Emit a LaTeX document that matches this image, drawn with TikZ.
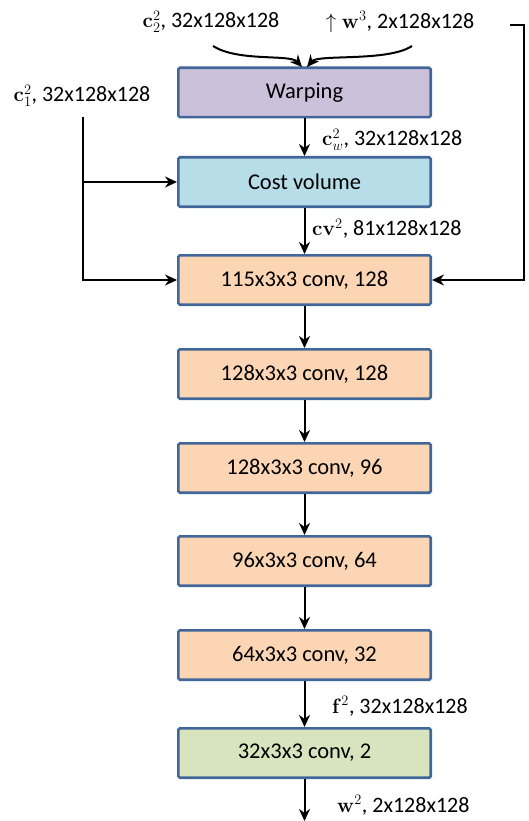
\documentclass[tikz,border=0pt]{standalone}
\usepackage[no-math]{fontspec}
\setmainfont{Carlito}
\usetikzlibrary{arrows.meta}
\definecolor{bordc}{HTML}{41669A}
\definecolor{warpc}{HTML}{CCC1DA}
\definecolor{costc}{HTML}{B7DEE8}
\definecolor{convc}{HTML}{FCD5B5}
\definecolor{greenc}{HTML}{D7E4BD}
\begin{document}
\begin{tikzpicture}[x=1pt,y=-1pt,
  blk/.style={draw=bordc,line width=2.6pt,rounded corners=1.5pt,minimum width=252.4pt,minimum height=49.4pt,font=\fontsize{22.5}{26}\selectfont,inner sep=0pt},
  lbl/.style={font=\fontsize{22}{26}\selectfont,inner sep=0pt},
  arr/.style={line width=2pt,-{Stealth[length=12pt,width=11pt]}},
  ln/.style={line width=2pt}]
\useasboundingbox (0,0) rectangle (528,821);
\node[blk,fill=warpc] (warp) at (304.5,92.5) {Warping};
\node[blk,fill=costc] (cost) at (304.5,182) {Cost volume};
\node[blk,fill=convc] (c1) at (304.5,280) {115x3x3 conv, 128};
\node[blk,fill=convc] (c2) at (304.5,374) {128x3x3 conv, 128};
\node[blk,fill=convc] (c3) at (304.5,468) {128x3x3 conv, 96};
\node[blk,fill=convc] (c4) at (304.5,561) {96x3x3 conv, 64};
\node[blk,fill=convc] (c5) at (304.5,655) {64x3x3 conv, 32};
\node[blk,fill=greenc] (c6) at (304.5,753) {32x3x3 conv, 2};
\node[lbl] (lc2) at (211,22) {$\mathbf{c}_2^2$, 32x128x128};
\node[lbl] (lw3) at (400,22) {$\uparrow\mathbf{w}^3$, 2x128x128};
\node[lbl] (lc1) at (82,96) {$\mathbf{c}_1^2$, 32x128x128};
\node[lbl,anchor=west] (lcw) at (322,140) {$\mathbf{c}_w^2$, 32x128x128};
\node[lbl,anchor=west] (lcv) at (312,229) {$\mathbf{cv}^2$, 81x128x128};
\node[lbl,anchor=west] (lf) at (332,706) {$\mathbf{f}^2$, 32x128x128};
\node[lbl,anchor=west] (lw2) at (337,805) {$\mathbf{w}^2$, 2x128x128};
\coordinate (out) at (304.5,821);
\coordinate (tr) at (524,25);
\coordinate (lt) at (83,117);
\draw[arr] (213,46) .. controls (238,62) and (290,54) .. (302,67);
\draw[arr] (412,46) .. controls (388,62) and (318,54) .. (307,67);
\draw[arr] (warp) -- (cost);
\draw[arr] (cost) -- (c1);
\draw[arr] (c1) -- (c2);
\draw[arr] (c2) -- (c3);
\draw[arr] (c3) -- (c4);
\draw[arr] (c4) -- (c5);
\draw[arr] (c5) -- (c6);
\draw[arr] (c6) -- (out);
\draw[arr] (lt) |- (c1.west);
\draw[arr] (lt |- cost.west) -- (cost.west);
\draw[arr] (510,25) -- (tr) |- (c1.east);
\end{tikzpicture}
\end{document}
